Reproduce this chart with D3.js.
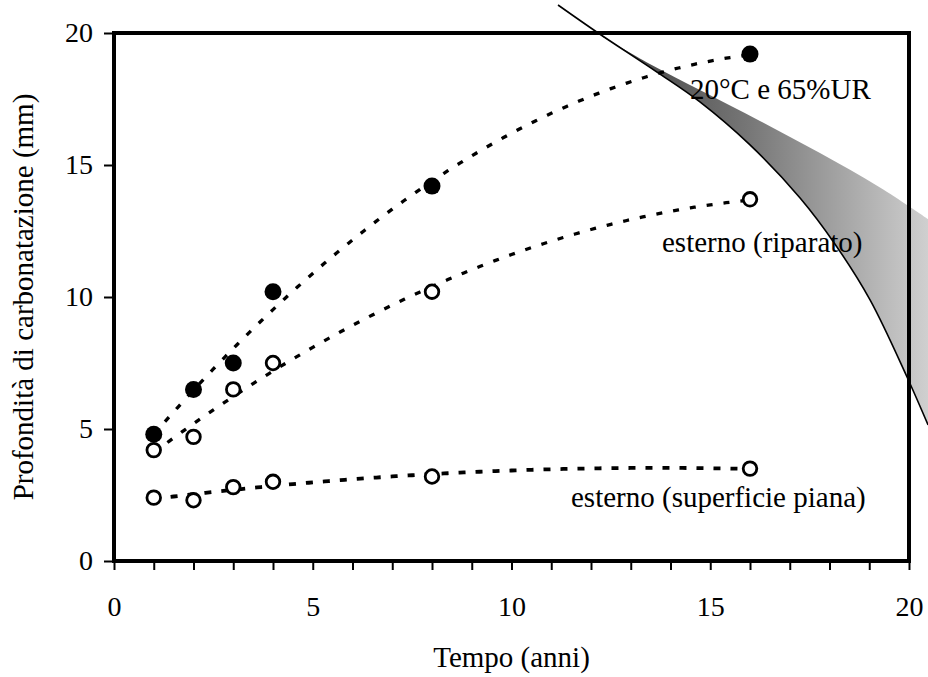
<!DOCTYPE html>
<html>
<head>
<meta charset="utf-8">
<script src="https://cdn.jsdelivr.net/npm/d3@7"></script>
<style>
  html, body { margin: 0; padding: 0; background: #fff; }
  svg { display: block; }
  text { font-family: "Liberation Serif", "Times New Roman", serif; fill: #000; }
</style>
</head>
<body>
<svg id="chart" width="928" height="677"></svg>
<script>
// Carbonation depth measurements (mm) against exposure time (years)
const years = [1, 2, 3, 4, 8, 16];
const depthLab = [4.8, 6.5, 7.5, 10.2, 14.2, 19.2];        // 20°C e 65%UR
const depthSheltered = [4.2, 4.7, 6.5, 7.5, 10.2, 13.7];  // esterno (riparato)
const depthFlat = [2.4, 2.3, 2.8, 3.0, 3.2, 3.5];         // esterno (superficie piana)

const seriesNames = ["20°C e 65%UR", "esterno (riparato)", "esterno (superficie piana)"];

const xTickValues = d3.range(0, 21, 1);
const xTickLabels = [0, 5, 10, 15, 20];
const yTickValues = [0, 5, 10, 15, 20];

// Shaded band: lower (stroked) edge and upper edge, in axis units
const bandEdgeX = [11.17, 12.18, 13.66, 14.74, 16.0, 17.26, 18.14, 19.02, 19.95, 20.48];
const bandEdgeY = [21.06, 20.0, 18.52, 17.39, 15.76, 13.75, 12.0, 9.89, 6.97, 5.15];
const bandTopX = [12.30, 13.48, 14.74, 16.25, 17.76, 19.27, 20.48];
const bandTopY = [19.85, 18.83, 17.84, 16.67, 15.45, 14.15, 12.95];

const svg = d3.select("#chart");
const frame = { left: 114, right: 909, top: 33, bottom: 561 };

const x = d3.scaleLinear().domain([0, 20]).range([frame.left, frame.right]);
const y = d3.scaleLinear().domain([0, 20]).range([frame.bottom, frame.top]);

// Least-squares quadratic trend through a series
function quadFit(xs, ys) {
  const s = k => d3.sum(xs, v => Math.pow(v, k));
  const t = k => d3.sum(xs, (v, i) => Math.pow(v, k) * ys[i]);
  const A = [[s(0), s(1), s(2)], [s(1), s(2), s(3)], [s(2), s(3), s(4)]];
  const b = [t(0), t(1), t(2)];
  for (let i = 0; i < 3; i++) {
    for (let j = i + 1; j < 3; j++) {
      const f = A[j][i] / A[i][i];
      for (let k = i; k < 3; k++) A[j][k] -= f * A[i][k];
      b[j] -= f * b[i];
    }
  }
  const c = [0, 0, 0];
  for (let i = 2; i >= 0; i--) {
    let acc = b[i];
    for (let k = i + 1; k < 3; k++) acc -= A[i][k] * c[k];
    c[i] = acc / A[i][i];
  }
  return v => c[0] + c[1] * v + c[2] * v * v;
}

// Gradient for the shaded band
const defs = svg.append("defs");
const grad = defs.append("linearGradient")
  .attr("id", "bandFill")
  .attr("gradientUnits", "userSpaceOnUse")
  .attr("x1", x(12.2)).attr("y1", 0)
  .attr("x2", x(20.5)).attr("y2", 0);
grad.append("stop").attr("offset", "0%").attr("stop-color", "#3a3a3a");
grad.append("stop").attr("offset", "45%").attr("stop-color", "#767676");
grad.append("stop").attr("offset", "100%").attr("stop-color", "#d0d0d0");

const edgePts = bandEdgeX.map((v, i) => [x(v), y(bandEdgeY[i])]);
const topPts = bandTopX.map((v, i) => [x(v), y(bandTopY[i])]);
const smooth = d3.line().curve(d3.curveCatmullRom.alpha(0.5));

const lowerBack = edgePts.filter(p => p[0] >= x(12.18)).reverse();
const bandPath = smooth(topPts) + "L" + smooth(lowerBack).slice(1) + "Z";

svg.append("path")
  .attr("d", bandPath)
  .attr("fill", "url(#bandFill)")
  .attr("stroke", "none");

svg.append("path")
  .attr("d", smooth(edgePts))
  .attr("fill", "none")
  .attr("stroke", "#000")
  .attr("stroke-width", 1.6);

// Axes
const xAxis = d3.axisBottom(x)
  .tickValues(xTickValues)
  .tickSize(9)
  .tickSizeOuter(0)
  .tickPadding(26)
  .tickFormat(d => xTickLabels.includes(d) ? d3.format("d")(d) : "");

const gx = svg.append("g")
  .attr("transform", `translate(0,${frame.bottom})`)
  .call(xAxis);
gx.select(".domain").remove();
gx.selectAll(".tick line").attr("stroke", "#000").attr("stroke-width", 2);
gx.selectAll(".tick text").attr("font-size", 28).attr("fill", "#000")
  .attr("font-family", "Liberation Serif, Times New Roman, serif");

const yAxis = d3.axisLeft(y)
  .tickValues(yTickValues)
  .tickSize(10)
  .tickSizeOuter(0)
  .tickPadding(11)
  .tickFormat(d3.format("d"));

const gy = svg.append("g")
  .attr("transform", `translate(${frame.left},0)`)
  .call(yAxis);
gy.select(".domain").remove();
gy.selectAll(".tick line").attr("stroke", "#000").attr("stroke-width", 2);
gy.selectAll(".tick text").attr("font-size", 28).attr("fill", "#000")
  .attr("font-family", "Liberation Serif, Times New Roman, serif");

// Plot frame
svg.append("rect")
  .attr("x", frame.left).attr("y", frame.top)
  .attr("width", frame.right - frame.left)
  .attr("height", frame.bottom - frame.top)
  .attr("fill", "none")
  .attr("stroke", "#000")
  .attr("stroke-width", 4);

// Trend lines
const series = [
  { name: seriesNames[0], values: depthLab, filled: true, width: 3.3, dash: "6 11" },
  { name: seriesNames[1], values: depthSheltered, filled: false, width: 3.3, dash: "6 11" },
  { name: seriesNames[2], values: depthFlat, filled: false, width: 3.8, dash: "7 10" }
];

const trendLine = d3.line().x(d => x(d[0])).y(d => y(d[1]));
const sampleX = d3.range(1, 16.0001, 0.1);

series.forEach(s => {
  const f = quadFit(years, s.values);
  svg.append("path")
    .datum(sampleX.map(v => [v, f(v)]))
    .attr("d", trendLine)
    .attr("fill", "none")
    .attr("stroke", "#000")
    .attr("stroke-width", s.width)
    .attr("stroke-dasharray", s.dash);
});

// Markers
series.forEach(s => {
  svg.append("g").selectAll("circle")
    .data(years.map((v, i) => [v, s.values[i]]))
    .join("circle")
    .attr("cx", d => x(d[0]))
    .attr("cy", d => y(d[1]))
    .attr("r", s.filled ? 8.5 : 6.8)
    .attr("fill", s.filled ? "#000" : "#fff")
    .attr("stroke", "#000")
    .attr("stroke-width", s.filled ? 0 : 2.8);
});

// Series labels
const labels = [
  { text: seriesNames[0], px: 690, py: 99 },
  { text: seriesNames[1], px: 662, py: 252 },
  { text: seriesNames[2], px: 571, py: 507 }
];
svg.append("g").selectAll("text")
  .data(labels)
  .join("text")
  .attr("x", d => d.px)
  .attr("y", d => d.py)
  .attr("font-size", 29)
  .text(d => d.text);

// Axis titles
svg.append("text")
  .attr("x", (frame.left + frame.right) / 2)
  .attr("y", 667)
  .attr("text-anchor", "middle")
  .attr("font-size", 29)
  .text("Tempo (anni)");

svg.append("text")
  .attr("transform", `translate(33,${(frame.top + frame.bottom) / 2}) rotate(-90)`)
  .attr("text-anchor", "middle")
  .attr("font-size", 29)
  .text("Profondità di carbonatazione (mm)");
</script>
</body>
</html>
